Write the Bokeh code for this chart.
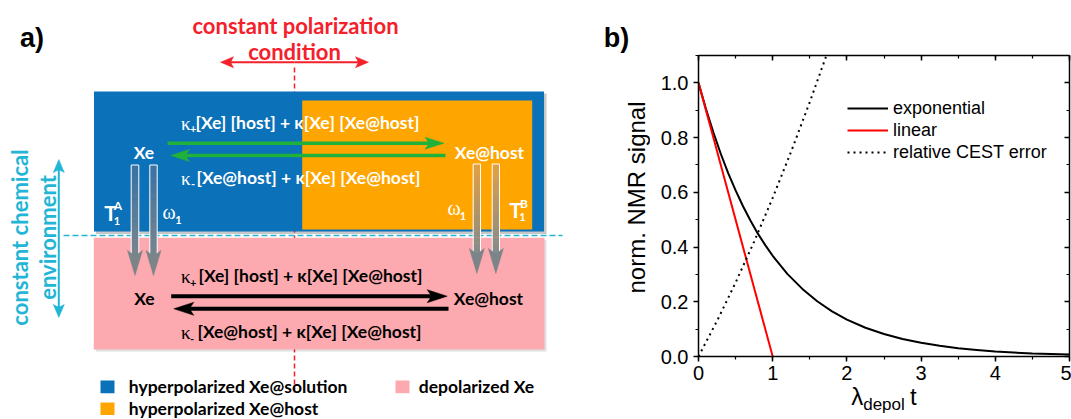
import math
from bokeh.plotting import figure
from bokeh.models import (Range1d, LinearAxis, SingleIntervalTicker, NumeralTickFormatter,
                          Legend, LegendItem)
from bokeh.layouts import row
from bokeh.embed import file_html
from bokeh.resources import INLINE
from bokeh.core.properties import value

# ================= panel b data =================
t_exponential = [0.0, 0.1, 0.2, 0.3, 0.4, 0.5, 0.6, 0.7, 0.8, 0.9, 1.0, 1.2, 1.4, 1.6, 1.8,
                 2.0, 2.25, 2.5, 2.75, 3.0, 3.25, 3.5, 3.75, 4.0, 4.5, 5.0]
signal_exponential = [1.0, 0.905, 0.819, 0.741, 0.670, 0.607, 0.549, 0.497, 0.449, 0.407, 0.368,
                      0.301, 0.247, 0.202, 0.165, 0.135, 0.105, 0.082, 0.064, 0.050, 0.039,
                      0.030, 0.024, 0.018, 0.011, 0.007]
t_linear = [0.0, 1.0]
signal_linear = [1.0, 0.0]
t_cest = [0.0, 0.25, 0.5, 0.75, 1.0, 1.25, 1.5, 1.75]
cest_error = [0.0, 0.13, 0.27, 0.42, 0.58, 0.75, 0.93, 1.12]
series_names = ["exponential", "linear", "relative CEST error"]
x_axis_label_parts = ["λ", "depol", "t"]
y_axis_label = "norm. NMR signal"

# ================= panel a texts =================
panel_labels = ["a)", "b)"]
polarization_text = ["constant polarization", "condition"]
environment_text = ["constant chemical", "environment"]
species = ["Xe", "Xe@host"]
forward_rate = "[Xe] [host] + κ[Xe] [Xe@host]"
backward_rate = "[Xe@host] + κ[Xe] [Xe@host]"
legend_entries = ["hyperpolarized Xe@solution", "depolarized Xe", "hyperpolarized Xe@host"]

BLUE = "#0B71B9"
ORANGE = "#FFA500"
PINK = "#FCA9AF"
RED = "#F4202B"
GREEN = "#20B13B"
CYAN = "#22B5D6"
FONT = "Lato"
SERIF = "Liberation Serif"
ARIAL = "Liberation Sans"

# ---------------------------------------------------------------- panel a (+ outer texts of b)
pa = figure(width=650, height=419, x_range=Range1d(0, 650), y_range=Range1d(419, 0),
            x_axis_location=None, y_axis_location=None, output_backend="svg",
            toolbar_location=None, min_border=0)
pa.outline_line_color = None
pa.grid.visible = False
pa.frame_align = False


def txt(p, x, y, s, size, color="black", font=FONT, style="bold", align="left",
        baseline="middle", angle=0.0):
    p.text(x=[x], y=[y], text=[s], text_font=value(font), text_font_size=value(f"{size}px"),
           text_font_style=value(style), text_color=value(color), text_align=value(align),
           text_baseline=value(baseline), angle=angle)


def harrow(p, x0, x1, y, color, lw, hl, hw):
    d = 1 if x1 > x0 else -1
    p.line([x0, x1 - d * hl * 0.7], [y, y], line_color=color, line_width=lw)
    p.patch([x1, x1 - d * hl, x1 - d * hl * 0.78, x1 - d * hl],
            [y, y - hw, y, y + hw], fill_color=color, line_color=color, line_width=0.5)


def vhead(p, x, tip, d, color, hl, hw):
    p.patch([x - hw, x, x + hw, x], [tip - d * hl, tip, tip - d * hl, tip - d * hl * 0.78],
            fill_color=color, line_color=color, line_width=0.5)


# red dashed vertical line (behind boxes)
pa.line([294, 294], [67, 392], line_color=RED, line_width=1.5, line_dash="5 3")

# boxes
pa.quad(left=[95.5], right=[546], top=[93], bottom=[233.5], fill_color="black",
        fill_alpha=0.22, line_color=None)
pa.quad(left=[93.5], right=[543.5], top=[91], bottom=[231], fill_color=BLUE, line_color=None)
pa.quad(left=[301.7], right=[531.7], top=[100], bottom=[229], fill_color=ORANGE, line_color=None)
pa.quad(left=[95.3], right=[546], top=[239.3], bottom=[351], fill_color="black",
        fill_alpha=0.12, line_color=None)
pa.quad(left=[93.3], right=[544], top=[237.3], bottom=[349], fill_color=PINK, line_color=None)

# cyan dashed line
pa.line([63, 562], [235, 235], line_color=CYAN, line_width=1.6, line_dash="6 3")


def lerp(c0, c1, f):
    a = [int(c0[i:i + 2], 16) for i in (1, 3, 5)]
    b = [int(c1[i:i + 2], 16) for i in (1, 3, 5)]
    return "#%02x%02x%02x" % tuple(int(round(a[k] + (b[k] - a[k]) * f)) for k in range(3))


def stem(p, xl, xr, y0, y1, ctop, cbot, tip):
    n = 16
    for i in range(n):
        ya = y0 + (y1 - y0) * i / n
        yb = y0 + (y1 - y0) * (i + 1) / n
        p.quad(left=[xl], right=[xr], top=[ya], bottom=[yb + 0.3],
               fill_color=lerp(ctop, cbot, (i + 0.5) / n), line_color=None)
    p.quad(left=[xl], right=[xr], top=[y0], bottom=[y1], fill_color=None,
           line_color="white", line_width=1)
    vhead(p, (xl + xr) / 2, tip, 1, "#7c8488", 25, 7.5)


for xl, xr in [(130.7, 138.3), (149.3, 156.7)]:
    stem(pa, xl, xr, 164.5, 256, "#3a72a2", "#7a858b", 275)
for xl, xr in [(472.7, 480.0), (491.7, 499.0)]:
    stem(pa, xl, xr, 163.5, 254, "#e4a043", "#818a8d", 273)

# green / black exchange arrows
harrow(pa, 167, 443.5, 142.7, GREEN, 3.5, 19, 6)
harrow(pa, 445, 170, 155, GREEN, 3.5, 19, 6)
harrow(pa, 170.7, 446.7, 295.7, "black", 4, 20, 6.5)
harrow(pa, 448, 173.3, 308.3, "black", 4, 20, 6.5)

# red double arrow
harrow(pa, 294, 368, 61.7, RED, 2, 13, 5.5)
harrow(pa, 294, 220, 61.7, RED, 2, 13, 5.5)
# cyan double arrow
pa.line([58.3, 58.3], [168, 308], line_color=CYAN, line_width=2)
vhead(pa, 58.3, 159, -1, CYAN, 13, 5.5)
vhead(pa, 58.3, 317, 1, CYAN, 13, 5.5)

# panel labels
txt(pa, 31.5, 37, panel_labels[0], 27, font=ARIAL, align="center")
txt(pa, 616, 37, panel_labels[1], 27, font=ARIAL, align="center")
# y-axis title of panel b
txt(pa, 636, 197, y_axis_label, 24, font=ARIAL, style="normal", align="center",
    angle=math.pi / 2)

# red / cyan titles
txt(pa, 295, 25, polarization_text[0], 22, color=RED, align="center")
txt(pa, 294, 51, polarization_text[1], 22, color=RED, align="center")
txt(pa, 18.5, 237, environment_text[0], 22, color=CYAN, align="center", angle=math.pi / 2)
txt(pa, 47, 237, environment_text[1], 22, color=CYAN, align="center", angle=math.pi / 2)

# reaction texts
for (ky, col, sub, line, xs, x0) in [
        (121.5, "white", "+", forward_rate, 189.5, 195),
        (176.5, "white", "-", backward_rate, 190.5, 196),
        (275.0, "black", "+", forward_rate, 189.5, 198),
        (331.0, "black", "-", backward_rate, 189.5, 197)]:
    txt(pa, 180.5, ky + 1, "κ", 19, color=col, font=SERIF, style="normal")
    txt(pa, xs, ky + 7, sub, 11, color=col)
    txt(pa, x0, ky, line, 17.5, color=col)

txt(pa, 143.5, 151.7, species[0], 17.5, color="white", align="center")
txt(pa, 489, 151.7, species[1], 17.5, color="white", align="center")
txt(pa, 144, 298.3, species[0], 17.5, color="black", align="center")
txt(pa, 488, 298, species[1], 17.5, color="black", align="center")

# T1 / omega1 labels
txt(pa, 110, 211.5, "T", 21, color="white", align="center")
txt(pa, 117.5, 204.5, "A", 12, color="white", align="center")
txt(pa, 116.5, 220, "1", 11, color="white", align="center")
txt(pa, 168.5, 211, "ω", 20, color="white", font=SERIF, style="normal", align="center")
txt(pa, 178, 219.5, "1", 11, color="white", align="center")
txt(pa, 453.5, 207, "ω", 20, color="white", font=SERIF, style="normal", align="center")
txt(pa, 462.5, 215.5, "1", 11, color="white", align="center")
txt(pa, 515, 208.5, "T", 21, color="white", align="center")
txt(pa, 523.5, 202.5, "B", 12, color="white", align="center")
txt(pa, 522, 216.5, "1", 11, color="white", align="center")

# legend of panel a
pa.quad(left=[100], right=[114], top=[380], bottom=[392.7], fill_color=BLUE, line_color=None)
pa.quad(left=[395], right=[409], top=[380], bottom=[392.7], fill_color=PINK, line_color=None)
pa.quad(left=[100], right=[114], top=[402], bottom=[414.5], fill_color=ORANGE, line_color=None)
txt(pa, 128.3, 386.3, legend_entries[0], 17.5)
txt(pa, 418.3, 386.3, legend_entries[1], 17.5)
txt(pa, 128.3, 407.5, legend_entries[2], 17.5)

# ---------------------------------------------------------------- panel b
pb = figure(width=421, height=419, x_range=Range1d(0, 5), y_range=Range1d(0, 1.1),
            output_backend="svg", toolbar_location=None,
            min_border_left=48, min_border_right=2, min_border_top=55, min_border_bottom=63)
pb.grid.visible = False
pb.outline_line_color = None
pb.frame_align = False

for ax in (pb.xaxis[0], pb.yaxis[0]):
    ax.major_tick_in = 0
    ax.major_tick_out = 5
    ax.minor_tick_in = 0
    ax.minor_tick_out = 3
    ax.axis_line_width = 1.5
    ax.major_tick_line_width = 1.5
    ax.minor_tick_line_width = 1.2
    ax.major_label_text_font = ARIAL
    ax.major_label_text_font_size = "20px"
    ax.major_label_text_color = "black"
    ax.major_label_standoff = 5
pb.xaxis[0].ticker = SingleIntervalTicker(interval=1, num_minor_ticks=2)
pb.yaxis[0].ticker = SingleIntervalTicker(interval=0.2, num_minor_ticks=2)
pb.yaxis[0].formatter = NumeralTickFormatter(format="0.0")
pb.xaxis[0].major_label_standoff = 4
# x-axis title: "λ  t" on the main axis, subscript "depol" on a bare axis below it
pb.xaxis[0].axis_label = x_axis_label_parts[0] + "\u00a0" * 7 + x_axis_label_parts[2]
pb.xaxis[0].axis_label_text_font = ARIAL
pb.xaxis[0].axis_label_text_font_size = "24px"
pb.xaxis[0].axis_label_text_font_style = "normal"
pb.xaxis[0].axis_label_text_color = "black"
pb.xaxis[0].axis_label_standoff = 0


def bare_axis(interval, tick_in):
    return LinearAxis(ticker=SingleIntervalTicker(interval=interval, num_minor_ticks=2),
                      major_label_text_font_size="1px", major_label_text_color=None,
                      major_label_text_alpha=0, major_label_standoff=0,
                      major_tick_in=tick_in, major_tick_out=0,
                      minor_tick_in=3 if tick_in else 0, minor_tick_out=0,
                      axis_line_width=1.5, major_tick_line_width=1.5, minor_tick_line_width=1.2)


pb.add_layout(bare_axis(1, 5), "above")
pb.add_layout(bare_axis(0.2, 5), "right")
sub_axis = bare_axis(1, 0)
sub_axis.axis_line_color = None
sub_axis.major_tick_line_color = None
sub_axis.minor_tick_line_color = None
sub_axis.axis_label = x_axis_label_parts[1]
sub_axis.axis_label_text_font = ARIAL
sub_axis.axis_label_text_font_size = "17px"
sub_axis.axis_label_text_font_style = "normal"
sub_axis.axis_label_text_color = "black"
sub_axis.axis_label_standoff = -18
pb.add_layout(sub_axis, "below")

r_exp = pb.line(t_exponential, signal_exponential, line_color="black", line_width=2)
r_lin = pb.line(t_linear, signal_linear, line_color="#FF0000", line_width=2)
r_err = pb.line(t_cest, cest_error, line_color="black", line_width=2, line_dash="2 4")

legend = Legend(items=[LegendItem(label=series_names[0], renderers=[r_exp]),
                       LegendItem(label=series_names[1], renderers=[r_lin]),
                       LegendItem(label=series_names[2], renderers=[r_err])],
                location=(149, 193), padding=0, margin=0, spacing=0,
                glyph_width=41, glyph_height=22, label_height=22, label_standoff=5,
                label_text_font=ARIAL, label_text_font_size="18px",
                label_text_color="black",
                border_line_color=None, background_fill_alpha=0)
pb.add_layout(legend)

layout = row(pa, pb)
open("out.html", "w").write(file_html(layout, INLINE))
